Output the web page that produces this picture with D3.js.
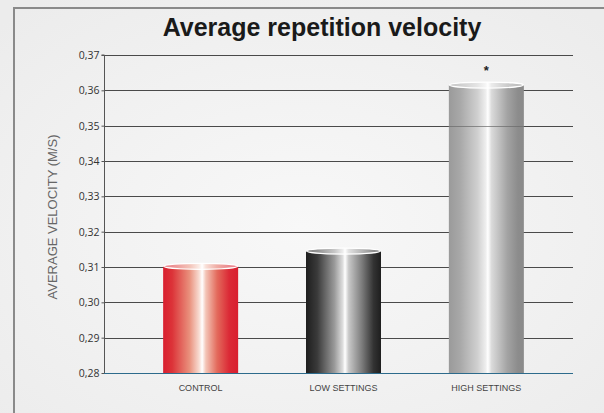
<!DOCTYPE html>
<html>
<head>
<meta charset="utf-8">
<script src="https://cdn.jsdelivr.net/npm/d3@7"></script>
<style>
  body { margin: 0; background: #f0f0f0; }
  svg { display: block; }
</style>
</head>
<body>
<div id="container"></div>
<script>
/*** DATA ***/
const categories = ["CONTROL", "LOW SETTINGS", "HIGH SETTINGS"];
const velocities = [0.3102, 0.3145, 0.3615];
const marks = ["", "", "*"];
const yTicks = [0.28, 0.29, 0.30, 0.31, 0.32, 0.33, 0.34, 0.35, 0.36, 0.37];

const width = 604, height = 413;
const margin = { top: 55, right: 31, bottom: 40, left: 104 };

const svg = d3.select("#container")
  .append("svg")
  .attr("width", width)
  .attr("height", height);

const defs = svg.append("defs");

// background with soft vignette
const bg = defs.append("radialGradient").attr("id", "bg")
  .attr("cx", "50%").attr("cy", "55%").attr("r", "70%");
bg.append("stop").attr("offset", "0%").attr("stop-color", "#f8f8f8");
bg.append("stop").attr("offset", "100%").attr("stop-color", "#ececec");
svg.append("rect").attr("width", width).attr("height", height).attr("fill", "url(#bg)");

// outer frame (cropped on right and bottom)
svg.append("path")
  .attr("d", `M14,${height + 2}V8H${width + 2}`)
  .attr("fill", "none")
  .attr("stroke", "#8a8a8a")
  .attr("stroke-width", 2);

// bar gradients
const palettes = [
  [[0, "#d91f2f"], [0.12, "#dc3338"], [0.35, "#e9907c"], [0.48, "#f8dcd2"], [0.52, "#ffffff"], [0.57, "#f3c4b6"], [0.72, "#e36a5c"], [0.88, "#db2a36"], [1, "#d91f2f"]],
  [[0, "#1e1e1e"], [0.15, "#3a3a3a"], [0.38, "#9a9a9a"], [0.49, "#dedede"], [0.52, "#ffffff"], [0.57, "#c8c8c8"], [0.75, "#7a7a7a"], [0.9, "#333333"], [1, "#1e1e1e"]],
  [[0, "#9a9a9a"], [0.15, "#a8a8a8"], [0.38, "#cfcfcf"], [0.49, "#eeeeee"], [0.52, "#ffffff"], [0.57, "#dadada"], [0.78, "#a3a3a3"], [0.92, "#8c8c8c"], [1, "#8a8a8a"]]
];
palettes.forEach((stops, i) => {
  const g = defs.append("linearGradient").attr("id", "bar" + i)
    .attr("x1", "0%").attr("x2", "100%").attr("y1", "0%").attr("y2", "0%");
  stops.forEach(s => g.append("stop").attr("offset", s[0]).attr("stop-color", s[1]));
  const t = defs.append("linearGradient").attr("id", "top" + i)
    .attr("x1", "0%").attr("x2", "100%");
  stops.forEach(s => t.append("stop").attr("offset", s[0])
    .attr("stop-color", d3.interpolateRgb(s[1], "#ffffff")(0.45)));
});

/*** SCALES ***/
const y = d3.scaleLinear()
  .domain([0.28, 0.37])
  .range([height - margin.bottom, margin.top]);

const x = d3.scaleBand()
  .domain(categories)
  .range([106, 581])
  .paddingInner(0.475)
  .paddingOuter(0.4);

const plotRight = width - margin.right;

// title
svg.append("text")
  .attr("x", 322)
  .attr("y", 36)
  .attr("text-anchor", "middle")
  .style("font-family", "'Liberation Sans', Arial, sans-serif")
  .style("font-weight", "bold")
  .style("font-size", "25px")
  .style("fill", "#1a1a1a")
  .text("Average repetition velocity");

// grid lines
svg.selectAll(".grid")
  .data(yTicks.slice(1))
  .join("line")
  .attr("class", "grid")
  .attr("x1", margin.left)
  .attr("x2", plotRight)
  .attr("y1", d => Math.round(y(d)) + 0.5)
  .attr("y2", d => Math.round(y(d)) + 0.5)
  .attr("stroke", "#4a4a4a")
  .attr("stroke-width", 1);

// y axis
const yAxis = svg.append("g")
  .attr("transform", `translate(${margin.left + 0.5},0)`)
  .call(d3.axisLeft(y)
    .tickValues(yTicks)
    .tickSize(3)
    .tickFormat(d => d3.format(".2f")(d).replace(".", ",")));
yAxis.select(".domain").attr("stroke", "#555").attr("d", `M-3,${y(0.37)}H0V${y(0.28)}`);
yAxis.selectAll(".tick line").attr("stroke", "#555");
yAxis.selectAll(".tick text")
  .attr("x", -5)
  .style("font-family", "'Open Sans', sans-serif")
  .style("font-size", "10.5px")
  .style("fill", "#333");

// y axis title
svg.append("text")
  .attr("transform", `translate(57,${(y(0.28) + y(0.37)) / 2 + 3}) rotate(-90)`)
  .attr("text-anchor", "middle")
  .style("font-family", "'Liberation Sans', Arial, sans-serif")
  .style("font-size", "13px")
  .style("fill", "#666")
  .text("AVERAGE VELOCITY (M/S)");

// bars as cylinders
const ry = 3;
const bars = svg.selectAll(".bar")
  .data(categories)
  .join("g")
  .attr("class", "bar");

bars.append("rect")
  .attr("x", d => x(d))
  .attr("width", x.bandwidth())
  .attr("y", (d, i) => y(velocities[i]))
  .attr("height", (d, i) => y(0.28) - y(velocities[i]))
  .attr("fill", (d, i) => `url(#bar${i})`);

bars.append("ellipse")
  .attr("cx", d => x(d) + x.bandwidth() / 2)
  .attr("cy", (d, i) => y(velocities[i]))
  .attr("rx", x.bandwidth() / 2 - 0.5)
  .attr("ry", ry)
  .attr("fill", (d, i) => `url(#top${i})`)
  .attr("stroke", "#ffffff")
  .attr("stroke-width", 1.2);

// the 0.35 line shows through the high bar in the original
svg.append("line")
  .attr("x1", x("HIGH SETTINGS"))
  .attr("x2", x("HIGH SETTINGS") + x.bandwidth())
  .attr("y1", Math.round(y(0.35)) + 0.5)
  .attr("y2", Math.round(y(0.35)) + 0.5)
  .attr("stroke", "#6a6a6a")
  .attr("stroke-opacity", 0.7);

// baseline
svg.append("line")
  .attr("x1", margin.left)
  .attr("x2", plotRight)
  .attr("y1", y(0.28) + 0.5)
  .attr("y2", y(0.28) + 0.5)
  .attr("stroke", "#2d6b8c")
  .attr("stroke-width", 1);

// significance marks
svg.selectAll(".mark")
  .data(categories)
  .join("text")
  .attr("class", "mark")
  .attr("x", d => x(d) + x.bandwidth() / 2)
  .attr("y", (d, i) => y(velocities[i]) - 10)
  .attr("text-anchor", "middle")
  .style("font-family", "'Liberation Sans', Arial, sans-serif")
  .style("font-size", "13px")
  .style("font-weight", "bold")
  .style("fill", "#222")
  .text((d, i) => marks[i]);

// category labels
svg.selectAll(".cat")
  .data(categories)
  .join("text")
  .attr("class", "cat")
  .attr("x", d => x(d) + x.bandwidth() / 2)
  .attr("y", y(0.28) + 18)
  .attr("text-anchor", "middle")
  .style("font-family", "'Liberation Sans', Arial, sans-serif")
  .style("font-size", "9px")
  .style("fill", "#444")
  .text(d => d);
</script>
</body>
</html>
